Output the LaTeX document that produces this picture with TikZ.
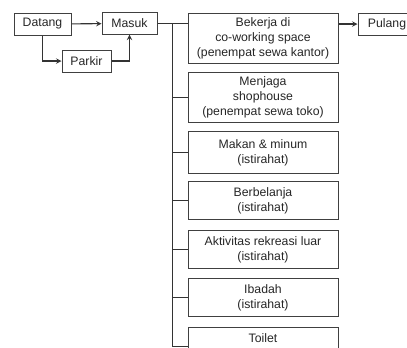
\documentclass[tikz,border=0pt]{standalone}
\usepackage{fontspec}
\setmainfont{Liberation Sans}
\usetikzlibrary{positioning, arrows, calc}

\begin{document}
\begin{tikzpicture}[
    x=0.75pt, y=-0.75pt,
    box/.style={rectangle, draw=black!75, line width=0.75pt, text=black!85, minimum width=#1, inner sep=1pt, align=center, font=\fontsize{9.2}{11.2}\selectfont},
    box/.default=40pt,
    arrow/.style={->, >=stealth, line width=0.8pt, draw=black!80},
    link/.style={line width=0.8pt, draw=black!80}
]
    \clip (0,0) rectangle (407,347);

    % Arrival
    \node[box=42.75pt, minimum height=16.5pt] (datang) at (42.5,24) {Datang};
    \node[box=41.25pt, minimum height=16pt] (masuk) at (129.5,23.5) {Masuk};
    \node[box=36.75pt, minimum height=16.5pt] (parkir) at (86.5,61) {Parkir};

    % Activities
    \node[box=112.5pt, minimum height=38pt] (kerja) at (263,38.5) {Bekerja di\\co-working space\\(penempat sewa kantor)};
    \node[box=112.5pt, minimum height=37pt] (jaga) at (263,97.5) {Menjaga\\shophouse\\(penempat sewa toko)};
    \node[box=112.5pt, minimum height=31pt] (makan) at (263,152.5) {Makan \& minum\\(istirahat)};
    \node[box=112.5pt, minimum height=28pt] (belanja) at (263,200.5) {Berbelanja\\(istirahat)};
    \node[box=112.5pt, minimum height=29pt] (rekreasi) at (263,249.5) {Aktivitas rekreasi luar\\(istirahat)};
    \node[box=112.5pt, minimum height=29pt] (ibadah) at (263,297.5) {Ibadah\\(istirahat)};
    \node[box=112.5pt, minimum height=29pt, text depth=12pt] (toilet) at (263,346.5) {Toilet};

    % Departure
    \node[box=43.5pt, minimum height=16.5pt] (pulang) at (387,24) {Pulang};

    % Connections
    \draw[arrow] (datang) -- (masuk);
    \draw[arrow] (datang.south) |- (parkir.west);
    \draw[arrow] (parkir.east) -| (masuk.south);
    \draw[link] (masuk.east) -- (masuk.east -| kerja.west);
    \draw[arrow] (kerja.east |- pulang.west) -- (pulang.west);

    % Branches
    \coordinate (trunk) at ($(masuk.east)+(15,0)$);
    \foreach \n in {jaga, makan, belanja, rekreasi, ibadah, toilet}
        \draw[link] (trunk) |- (\n.west);
\end{tikzpicture}
\end{document}
